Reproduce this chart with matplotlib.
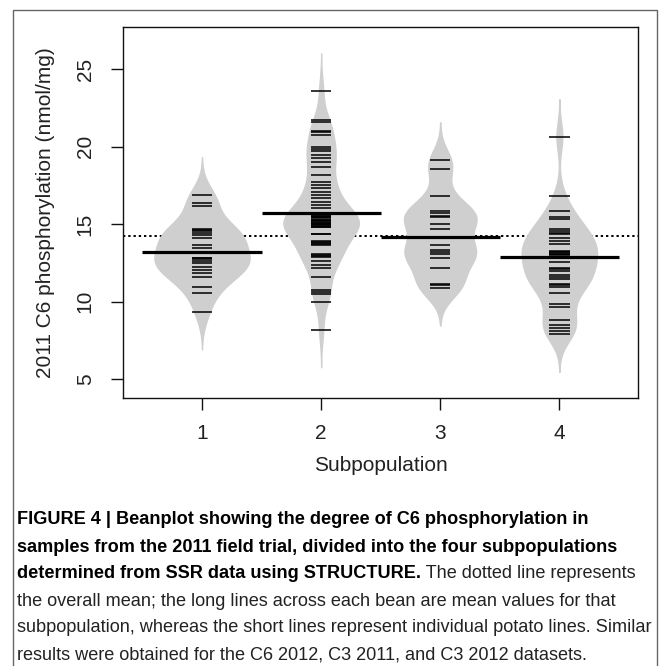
import numpy as np
import matplotlib
matplotlib.use("Agg")
import matplotlib.pyplot as plt
from matplotlib import font_manager
from matplotlib.patches import Rectangle
from matplotlib.text import Annotation

# values (thick bars = several close lines)
groups = [1, 2, 3, 4]
group_labels = ["1", "2", "3", "4"]
sub1 = [16.9, 16.35, 16.2, 14.7, 14.6, 14.55, 14.45, 14.3, 14.1, 13.65, 13.5,
        12.85, 12.8, 12.75, 12.6, 12.5, 12.25, 12.05, 11.85, 11.6, 10.95, 10.55, 9.35]
sub2 = [23.6, 21.75, 21.6, 21.05, 20.95, 20.75, 20.0, 19.85, 19.7, 19.45, 19.25,
        19.05, 18.7, 18.2, 17.75, 17.55, 17.35, 17.1, 16.9, 16.7, 16.45, 16.25,
        16.05, 15.6, 15.55, 15.5, 15.45, 15.4, 15.3, 15.25, 15.2, 15.15, 15.1,
        15.0, 15.0, 14.95, 14.9, 14.85, 14.85, 14.4, 14.4, 13.9, 13.85, 13.8, 13.7,
        13.65, 13.05, 13.0, 12.95, 12.9, 12.6, 12.4, 12.15, 11.6, 10.75, 10.65,
        10.5, 10.0, 8.2]
sub3 = [19.15, 18.55, 16.85, 15.85, 15.7, 15.55, 15.45, 15.0, 14.7, 13.65, 13.35,
        13.2, 13.05, 12.85, 12.2, 11.15, 11.05, 10.9]
sub4 = [20.65, 16.8, 15.85, 15.5, 15.35, 14.7, 14.55, 14.45, 14.35, 14.1, 13.9,
        13.75, 13.3, 13.2, 13.2, 13.1, 13.05, 13.0, 12.55, 12.15, 12.1, 12.0,
        11.7, 11.6, 11.5, 11.15, 11.05, 10.95, 10.55, 9.85, 9.65, 8.8, 8.5, 8.3,
        8.1, 7.9]
group_means = [13.18, 15.7, 14.16, 12.9]
overall_mean = 14.25
y_ticks = [5, 10, 15, 20, 25]

caption_bold = [
    "FIGURE 4 | Beanplot showing the degree of C6 phosphorylation in",
    "samples from the 2011 field trial, divided into the four subpopulations",
    "determined from SSR data using STRUCTURE.",
]
caption_tail = " The dotted line represents"
caption_plain = [
    "the overall mean; the long lines across each bean are mean values for that",
    "subpopulation, whereas the short lines represent individual potato lines. Similar",
    "results were obtained for the C6 2012, C3 2011, and C3 2012 datasets.",
]

BEAN_GREY = "#cfcfcf"
TEXT_COL = "#222222"


def pick_font(*names):
    have = {f.name for f in font_manager.fontManager.ttflist}
    for n in names:
        if n in have:
            return n
    return "DejaVu Sans"


def bean_density(vals, bw=0.9, cut=2.7, n=600):
    vals = np.asarray(vals)
    grid = np.linspace(vals.min() - cut * bw, vals.max() + cut * bw, n)
    z = (grid[:, None] - vals[None, :]) / bw
    dens = np.exp(-0.5 * z ** 2).sum(axis=1) / (len(vals) * bw * np.sqrt(2 * np.pi))
    return grid, dens


def main():
    chart_font = pick_font("Liberation Sans", "Arial")
    cap_font = pick_font("Liberation Sans Narrow", "Liberation Sans")

    fig = plt.figure(figsize=(6.67, 6.66), dpi=100)
    W, H = 667.0, 666.0

    # outer frame of the figure panel (bottom edge runs off the image)
    fig.patches.append(Rectangle((12.5 / W, -0.05), (657 - 12.5) / W, 1.05 - 9.5 / H,
                                 transform=fig.transFigure, fill=False,
                                 edgecolor="#666666", lw=1.0))

    ax = fig.add_axes([123.4 / W, 1 - 398.3 / H, (638 - 123.4) / W, (398.3 - 26.7) / H])

    data = [sub1, sub2, sub3, sub4]
    beans = [bean_density(d) for d in data]
    peak = max(d.max() for _, d in beans)

    ax.axhline(overall_mean, color="black", ls=(0, (1.2, 1.5)), lw=1.4, zorder=1)

    for pos, vals, (grid, dens), m in zip(groups, data, beans, group_means):
        half = dens / peak * 0.4
        ax.fill_betweenx(grid, pos - half, pos + half, facecolor=BEAN_GREY,
                         edgecolor=BEAN_GREY, lw=0.9, zorder=2)
        ax.hlines(vals, pos - 0.085, pos + 0.085, color="black", lw=1.1, zorder=3)
        ax.hlines(m, pos - 0.5, pos + 0.5, color="black", lw=2.3, zorder=4)

    ax.set_xlim(0.34, 4.66)
    ax.set_ylim(3.77, 27.75)
    ax.set_xticks(groups)
    ax.set_xticklabels(group_labels)
    ax.set_yticks(y_ticks)
    ax.set_yticklabels([str(t) for t in y_ticks], rotation=90, va="center")

    for s in ax.spines.values():
        s.set_linewidth(1.0)
        s.set_color("#111111")
    ax.tick_params(direction="out", length=8.6, width=1.0, color="#111111",
                   labelsize=15, labelcolor=TEXT_COL)
    ax.tick_params(axis="x", pad=10)
    ax.tick_params(axis="y", pad=12)
    for lab in ax.get_xticklabels() + ax.get_yticklabels():
        lab.set_family(chart_font)

    ax.set_xlabel("Subpopulation", fontsize=15, color=TEXT_COL, family=chart_font, va="center")
    ax.xaxis.set_label_coords(0.5, -0.182)
    ax.set_ylabel("2011 C6 phosphorylation (nmol/mg)", fontsize=15, color=TEXT_COL,
                  family=chart_font, va="center")
    ax.yaxis.set_label_coords(-0.152, 0.5)

    # caption below the chart; no condensed font installed, so fit size to width
    x0 = 17 / W
    line_y = [520, 547, 574, 601, 628, 655]
    size = 14.5
    caps = []
    for txt, yy in zip(caption_bold, line_y):
        caps.append(fig.text(x0, 1 - yy / H, txt, fontsize=size, fontweight="bold",
                             family=cap_font, color="black", va="center", ha="left"))
    last_bold = caps[-1]
    tail = Annotation(caption_tail, xy=(1, 0.5), xycoords=last_bold, va="center",
                      ha="left", fontsize=size, family=cap_font, color=TEXT_COL)
    fig.add_artist(tail)
    for txt, yy in zip(caption_plain, line_y[3:]):
        caps.append(fig.text(x0, 1 - yy / H, txt, fontsize=size, family=cap_font,
                             color=TEXT_COL, va="center", ha="left"))

    renderer = fig.canvas.get_renderer()
    widths = [t.get_window_extent(renderer).width for t in caps]
    widths.append(last_bold.get_window_extent(renderer).width
                  + tail.get_window_extent(renderer).width)
    new_size = size * 636.0 / max(widths)
    for t in caps + [tail]:
        t.set_fontsize(new_size)

    fig.savefig("out.png", dpi=100)
    plt.close(fig)


if __name__ == "__main__":
    main()
